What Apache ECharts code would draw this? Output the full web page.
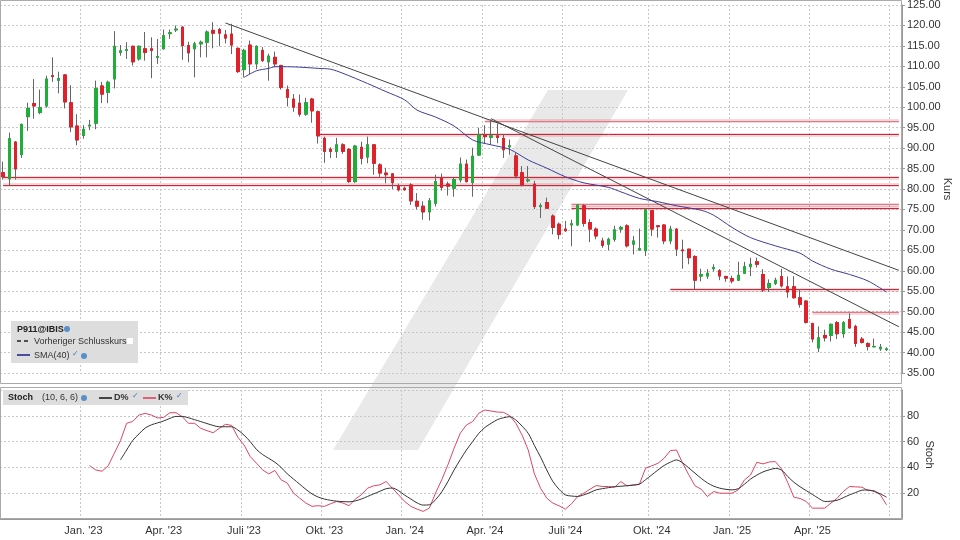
<!DOCTYPE html>
<html>
<head>
<meta charset="utf-8">
<script src="https://cdn.jsdelivr.net/npm/echarts@6/dist/echarts.min.js"></script>
<style>
  html, body { margin: 0; padding: 0; background: #fff; }
  #chart { width: 960px; height: 540px; }
</style>
</head>
<body>
<div id="chart"></div>
<script>
// weekly candles, first week starts Mon 3 Oct 2022
const startDate = new Date(2022, 9, 3);
const weekCount = 146;

// [open, close, low, high]
const ohlc = [
  [84,83,82.3,86.7],[82.5,92.3,80.8,93.8],[91.5,84.9,82.3,91.7],[88.4,95.8,87.6,96],[97.7,99.7,94.2,101.1],
  [100.9,100.3,97.2,106.9],[98.7,99.9,98.3,104.3],[100.3,106.9,99.9,107.7],[107.7,107.5,106.2,112.2],[106.6,107,103.4,108.7],
  [107.9,101.3,99.7,108.1],[101.1,95.2,93.9,105.4],[95.4,92,90.7,98.3],[93.1,94.6,92.3,95.6],[95.4,95.6,94.4,96.9],
  [96.1,104.6,94.6,106.5],[105.2,103.2,101,106.2],[103.6,106.1,101,106.5],[106.9,114.9,104.6,118.6],[113.4,113.8,112.6,115.2],
  [113.9,114.1,111.8,115.9],[114.9,111.1,110.2,115.1],[111.8,114.9,111.4,115.1],[114.3,113.4,111.4,118.4],[114.3,113.9,107.1,117.1],
  [112.2,112.4,110.6,116.7],[114.3,117.5,114.1,119],[118,118.2,116.7,119],[118.9,119.1,118.4,120],[119.6,115.1,111.6,119.8],
  [115.1,113.3,111,116],[114.3,115.5,107.3,116],[115.5,115.9,112.2,116.3],[115.9,118.4,112.2,118.8],[118.8,118.1,114.4,120.8],
  [119,118.1,114.9,119.4],[117.7,116.9,115.6,118.9],[117.9,115.2,113,120.4],[114.4,108.7,108.4,114.6],[109.2,113.9,107.3,114.3],
  [115.2,110.6,108.1,116.3],[110.6,114.9,109.3,115.1],[113.9,111.4,111.1,114.7],[111.1,112.5,106.5,113.1],[112.2,110.6,109.8,113.6],
  [110.2,104.8,104.3,110.4],[104.3,102.4,100.2,105.3],[102,100,98.9,103.2],[101,98.3,97.7,103.1],[98.3,101.1,97.9,102.3],
  [102,99.1,96.2,102.3],[98.9,93,91.1,99.2],[92.4,89.2,86.4,92.8],[89.7,89.2,87.6,90.2],[89.2,90.8,87.6,92.5],
  [90.8,89.2,88.6,91.2],[89.7,81.8,81.5,90],[81.8,90.5,81.5,90.8],[90.2,87.5,86,91.6],[87.8,90.8,86.3,92.8],
  [90.8,86.3,83.5,91],[85.9,83.9,82.7,86.3],[83.9,83.5,81.4,85.2],[83.7,81.6,80,83.9],[80.8,79.8,79.4,81.3],
  [80.2,79.8,79.6,80.6],[81,77.1,76.1,81.4],[77,75.8,75,79],[75.8,74.4,72.5,77],[74.4,77.1,72.3,77.8],
  [76.5,81.8,75.7,83.5],[82.6,80.4,79.6,83.8],[81.2,80.7,78.4,81.8],[80.2,82.3,78.1,82.8],[82.2,86.1,81.6,87.7],
  [86.1,81.8,81.6,87.2],[81.6,88,78.1,90.1],[88.3,93.2,88.1,95],[93.2,92.8,91.2,95.6],[92.6,93,91,97],
  [93,92.6,91.2,96],[92.4,89.6,87.6,93.2],[90.3,90.6,88.4,92.1],[88.1,83.2,82.6,88.9],[84,81,80.6,85.6],
  [82,82.2,81.6,85.6],[81.2,75.7,75.1,82],[75.7,75.9,72.9,76.5],[76.7,75.3,75.1,77.9],[73.4,70.6,68.9,73.8],
  [71.4,68.9,67.7,71.8],[70.2,69.8,69.5,72.2],[71.2,71.5,66,72.5],[71.2,76.1,71,76.3],[75.9,71.6,70.8,76.3],
  [71.8,70.2,67,72.6],[70.2,68.5,67.7,70.6],[67.3,66.2,65.6,68.1],[66.5,67.7,65,68.1],[67.7,70,67.1,71],
  [70.2,70.6,69.3,71],[71,66.1,65.7,71.4],[66.5,67.3,64,68.5],[65.1,65.4,64.9,70.3],[64.9,74.9,63.6,75.3],
  [74.7,70.2,68.5,74.9],[71,70.8,68.1,71.2],[71.2,67.3,66.5,71.4],[67.3,70.2,66.5,71],[70.2,65.3,63.6,70.4],
  [65.1,64.9,60.5,67.6],[65.3,63.2,61.6,65.3],[63.5,57.7,55.5,63.8],[58.7,59.1,57.4,60.5],[58.7,59.4,58,60.4],
  [60.5,60.8,59.8,61.6],[60,58.7,57.7,60.4],[58.6,58.2,57.3,58.8],[58.1,57.5,56.9,58.8],[57.7,58.9,57.5,62.2],
  [59.4,61,59.2,62.2],[61,61.6,58.7,63.2],[62.2,61.6,60.8,63.2],[59.1,55.3,54.8,60.4],[55.9,56.9,54.8,57.9],
  [56.9,57.7,56.5,58.3],[58.6,56.3,55.9,60.5],[56.1,54.8,53.4,58.6],[56.1,53.4,53.2,58.7],[53.4,51.8,51,55.5],
  [52.6,47.4,47.1,52.8],[47.1,43.3,42.5,47.3],[41.1,43.6,40.1,46.4],[44.2,43.6,42.7,45.6],[44.2,46.9,42.7,47.1],
  [47.3,44.6,43.3,47.7],[44.6,47.3,43.6,47.7],[48.1,46,45.8,49.6],[46.4,42.2,41.4,46.8],[43.3,42.5,42.2,43.8],
  [42.2,41.5,40.5,42.5],[41.4,41.5,41.3,43.4],[40.9,41.3,40.4,42.1],[40.7,40.9,40.4,41.3]
];

// SMA(40): [week index, value]
const sma40 = [
  [39,107.3],[41,108.9],[43,109.5],[44,109.9],[46,109.9],[48,109.8],[51,109.5],[53,109.3],[55,108.3],[59,105.8],
  [62,103.8],[65,101.8],[67,99.3],[70,97.6],[73,95.4],[76,92.0],[79,90.8],[82,89.7],[85,87.1],[88,85.1],
  [91,83.0],[94,81.5],[98,80.4],[100,79.3],[103,77.7],[106,76.9],[109,75.9],[113,74.8],[115,73.6],[118,70.6],
  [121,68.1],[125,66.1],[129,64.3],[131,62.4],[134,60.4],[137,59.1],[140,57.5],[143,54.8]
];

// Stochastics, K% from week index 14, D% from week index 19
const kStart = 14;
const kPct = [41.4,38,37,41.2,50.9,60.7,74.2,75.7,80.6,81.9,80.6,78.3,78.8,82.4,82.4,79.3,74.2,74.2,70.3,68.5,
  66.9,70.3,73.4,72.6,63.4,57.4,48.4,43.3,38.1,35,37.6,30.4,27.8,20.1,16.2,12.4,9.8,10.3,9.8,11.8,
  13.6,12.4,10.3,15.4,18.8,23.9,25.7,26.5,29.1,23.9,18.8,13.6,9.8,7.7,5.9,8.5,20.1,30.4,42,54.9,
  66.5,72.9,75.5,82,84.5,83.7,82.9,82.7,80.1,74.2,65.1,53.5,35,23.9,16.1,12.3,10.2,7.6,11.8,17.4,
  20,23.1,25.9,25.2,25.2,24.7,29,25.7,26.5,27,39.4,41.2,43.2,47.1,53,53.5,43.2,34.2,25.7,23.1,
  17.4,21.3,20,20,20,22.6,30.3,34.2,44,42.7,44.2,44.5,38.8,28.3,16.9,15.9,13.6,8.4,8.4,8.4,
  12.3,16.1,21.3,25.2,24.9,24.7,22.1,22.1,18.7,11];
const dStart = 19;
const dPct = [45.8,53.5,61,66,70.5,73,74.5,76,78,79.5,79.5,78.5,77,75.5,74,72.5,71.5,71.5,71.5,69,
  65,60,54,50,47,44,40,35,31,27,23,19.5,17,15.5,14.5,13.8,13.5,13.3,14,15.5,
  17.5,19.5,21.5,23.5,24,22,18.5,15.5,12.5,10.8,11,15,21,29,38,46,53.5,60,66.4,71,
  74.2,77,78.5,79.3,76.7,72,66.4,57,48,38,29,23,18.7,17.8,17.5,18.7,20.5,22.6,23.5,24.3,
  25,25.4,25.8,26.2,27,30.5,34.2,38,41.5,44,45.8,43.5,39.5,35.5,31.5,28,25.5,23.9,23,22.6,
  23.5,27,31,34,36.5,38.1,39.2,38,33,28.5,25,22,19,16,13.6,13.8,14.5,16.5,18.7,20.5,
  22.3,22.5,21.3,19.5,16.9];

// support / resistance lines: [from index, value, pale]
const hLines = [
  [0,82.8,false],[0,81.0,false],[51,93.3,false],[78,96.6,true],[92,76.2,true],[92,75.3,false],[108,55.4,false],[131,49.8,true]
];
// trend lines: [[i0,v0],[i1,v1]]
const trendLines = [
  [[36,120.6],[145,60.1]],
  [[79,97.2],[145,46.3]]
];

const monthNames = ['Jan.','Feb.','März','Apr.','Mai','Juni','Juli','Aug.','Sep.','Okt.','Nov.','Dez.'];
const weeks = [];
for (let i = 0; i < weekCount; i++) {
  const d = new Date(startDate.getTime() + i * 7 * 86400000);
  weeks.push(d.getFullYear() + '-' + (d.getMonth() + 1) + '-' + d.getDate());
}
function isQuarterStart(idx) {
  const p = weeks[idx].split('-').map(Number);
  return [1,4,7,10].includes(p[1]) && p[2] <= 7;
}
function showLabel(idx) {
  return idx > 5 && idx < 140 && isQuarterStart(idx);
}
function quarterLabel(v) {
  const p = v.split('-').map(Number);
  return monthNames[p[1]-1] + " '" + String(p[0]).slice(2);
}

const candles = ohlc.map(r => [r[0], r[1], r[2], r[3]]);
const bodies = ohlc.map(r => [r[0], r[1], Math.min(r[0], r[1]), Math.max(r[0], r[1])]);

const markLines = [];
hLines.forEach(h => {
  markLines.push([{coord:[h[0],h[1]], lineStyle:{color:'rgba(215,60,75,0.2)', width:4, type:'solid'}}, {coord:[145,h[1]]}]);
  markLines.push([{coord:[h[0],h[1]], lineStyle:{color: h[2] ? '#e07a85' : '#c8283c', width:1, type:'solid'}}, {coord:[145,h[1]]}]);
});
trendLines.forEach(t => {
  markLines.push([{coord:t[0], lineStyle:{color:'#444', width:1, type:'solid'}}, {coord:t[1]}]);
});

const gridStyle = {show:true, lineStyle:{color:'#c8c8c8', type:[2,2], width:1}};
const font = 'Liberation Sans';

const chart = echarts.init(document.getElementById('chart'));
chart.setOption({
  animation: false,
  textStyle: {fontFamily: font},
  grid: [
    {left: 0, width: 902, top: 5, height: 368, show: false, outerBoundsMode: 'none', containLabel: false},
    {left: 0, width: 902, top: 390, height: 129, show: false, outerBoundsMode: 'none', containLabel: false}
  ],
  xAxis: [
    {type:'category', gridIndex:0, data:weeks, boundaryGap:true,
     axisLine:{show:false}, axisTick:{show:false}, axisLabel:{show:false},
     splitLine:{...gridStyle, interval:(i) => isQuarterStart(i)}},
    {type:'category', gridIndex:1, data:weeks, boundaryGap:true,
     axisLine:{show:true, lineStyle:{color:'#999'}}, axisTick:{show:false},
     axisLabel:{interval:(i) => showLabel(i), formatter:quarterLabel, color:'#333', fontSize:11, margin:6},
     splitLine:{...gridStyle, interval:(i) => isQuarterStart(i)}}
  ],
  yAxis: [
    {type:'value', gridIndex:0, position:'right', min:35, max:125, interval:5,
     name:'Kurs', nameLocation:'middle', nameRotate:-90, nameGap:40, nameMoveOverlap:false,
     nameTextStyle:{color:'#333', fontSize:11},
     axisLine:{show:true, lineStyle:{color:'#999'}}, axisTick:{show:true, length:3, lineStyle:{color:'#999'}},
     axisLabel:{formatter:(v) => v.toFixed(2), color:'#333', fontSize:11, margin:5},
     splitLine:gridStyle},
    {type:'value', gridIndex:1, position:'right', min:0, max:100, interval:20,
     name:'Stoch', nameLocation:'middle', nameRotate:-90, nameGap:22, nameMoveOverlap:false,
     nameTextStyle:{color:'#333', fontSize:11},
     axisLine:{show:true, lineStyle:{color:'#999'}}, axisTick:{show:true, length:3, lineStyle:{color:'#999'}},
     axisLabel:{color:'#333', fontSize:11, margin:5, showMinLabel:false, showMaxLabel:false},
     splitLine:gridStyle}
  ],
  graphic: [
    {type:'polygon', z:-10, silent:true, shape:{points:[[548,90],[628,90],[418,450],[333,450]]}, style:{fill:'#e9e9e9'}},
    {type:'rect', z:100, silent:true, shape:{x:0.5, y:0.5, width:901, height:383}, style:{fill:'none', stroke:'#aaa'}},
    {type:'rect', z:100, silent:true, shape:{x:0.5, y:387.5, width:901, height:131}, style:{fill:'none', stroke:'#aaa'}},
    // price legend
    {type:'rect', z:90, shape:{x:11, y:321, width:127, height:42}, style:{fill:'#dddddd'}},
    {type:'text', z:91, left:17, top:325, style:{text:'P911@IBIS', font:'bold 9px ' + font, fill:'#222'}},
    {type:'circle', z:91, shape:{cx:67, cy:329, r:3}, style:{fill:'#5a8fc8'}},
    {type:'line', z:91, shape:{x1:17, y1:341, x2:30, y2:341}, style:{stroke:'#222', lineWidth:1.5, lineDash:[4,3]}},
    {type:'text', z:91, left:34, top:337, style:{text:'Vorheriger Schlusskurs', font:'9px ' + font, fill:'#333'}},
    {type:'rect', z:91, shape:{x:127, y:338, width:6, height:6}, style:{fill:'#fff'}},
    {type:'line', z:91, shape:{x1:17, y1:355, x2:30, y2:355}, style:{stroke:'#1a1a8c', lineWidth:1.5}},
    {type:'text', z:91, left:34, top:351, style:{text:'SMA(40)', font:'9px ' + font, fill:'#333'}},
    {type:'text', z:91, left:72, top:350, style:{text:'✓', font:'bold 8px DejaVu Sans', fill:'#3a78c8'}},
    {type:'circle', z:91, shape:{cx:84, cy:356, r:3}, style:{fill:'#5a8fc8'}},
    // stoch legend
    {type:'rect', z:90, shape:{x:3, y:390, width:185, height:15}, style:{fill:'#dddddd'}},
    {type:'text', z:91, left:8, top:393, style:{text:'Stoch', font:'bold 9px ' + font, fill:'#222'}},
    {type:'text', z:91, left:42, top:393, style:{text:'(10, 6, 6)', font:'9px ' + font, fill:'#333'}},
    {type:'circle', z:91, shape:{cx:84, cy:398, r:3}, style:{fill:'#5a8fc8'}},
    {type:'line', z:91, shape:{x1:99, y1:398, x2:112, y2:398}, style:{stroke:'#111', lineWidth:1.5}},
    {type:'text', z:91, left:114, top:393, style:{text:'D%', font:'bold 9px ' + font, fill:'#333'}},
    {type:'text', z:91, left:132, top:392, style:{text:'✓', font:'bold 8px DejaVu Sans', fill:'#3a78c8'}},
    {type:'line', z:91, shape:{x1:143, y1:398, x2:156, y2:398}, style:{stroke:'#d83a55', lineWidth:1.5}},
    {type:'text', z:91, left:158, top:393, style:{text:'K%', font:'bold 9px ' + font, fill:'#333'}},
    {type:'text', z:91, left:176, top:392, style:{text:'✓', font:'bold 8px DejaVu Sans', fill:'#3a78c8'}}
  ],
  series: [
    {type:'candlestick', name:'wick', xAxisIndex:0, yAxisIndex:0, data:candles, barWidth:3, z:3,
     itemStyle:{color:'#666', color0:'#666', borderColor:'#666', borderColor0:'#666', borderWidth:1},
     markLine:{silent:true, symbol:['none','none'], label:{show:false}, data:markLines, z:2}},
    {type:'candlestick', name:'body', xAxisIndex:0, yAxisIndex:0, data:bodies, barWidth:3, z:4,
     itemStyle:{color:'#1fae3a', color0:'#e0202a', borderColor:'#1fae3a', borderColor0:'#e0202a', borderWidth:1}},
    {type:'line', name:'SMA(40)', xAxisIndex:0, yAxisIndex:0, data:sma40, smooth:0.3, showSymbol:false, z:5,
     lineStyle:{color:'#3c3c9a', width:1}},
    {type:'line', name:'K%', xAxisIndex:1, yAxisIndex:1, data:kPct.map((v, i) => [i + kStart, v]), showSymbol:false,
     lineStyle:{color:'#dc4662', width:1}},
    {type:'line', name:'D%', xAxisIndex:1, yAxisIndex:1, data:dPct.map((v, i) => [i + dStart, v]), showSymbol:false, smooth:0.3,
     lineStyle:{color:'#333', width:1}}
  ]
});
</script>
</body>
</html>
